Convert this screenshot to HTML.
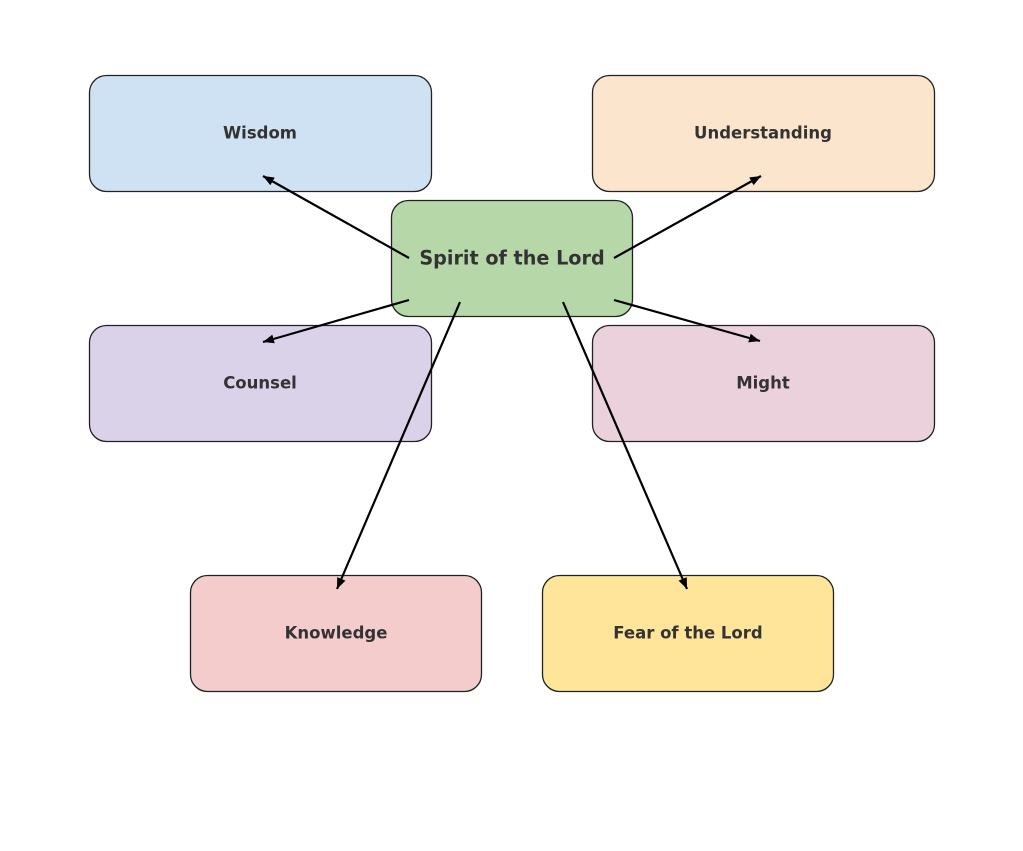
<!DOCTYPE html>
<html><head><meta charset="utf-8"><style>
html,body{margin:0;padding:0;background:#fff;}
svg{display:block;}
text{font-family:"DejaVu Sans","Liberation Sans",sans-serif;font-weight:bold;fill:#333;}
</style></head><body>
<svg width="1023" height="851" viewBox="0 0 1023 851" xmlns="http://www.w3.org/2000/svg">
<defs>
<marker id="ah" markerUnits="userSpaceOnUse" markerWidth="14" markerHeight="12" refX="11" refY="4.5" orient="auto">
<path d="M0,0 L11,4.5 L0,9 Z" fill="#000"/>
</marker>
</defs>
<g stroke="#222" stroke-width="1.3">
<rect x="89.5" y="75.5" width="342" height="116" rx="17" fill="#cfe2f3"/>
<rect x="592.5" y="75.5" width="342" height="116" rx="17" fill="#fce5cd"/>
<rect x="391.5" y="200.5" width="241" height="116" rx="17" fill="#b6d7a8"/>
<rect x="89.5" y="325.5" width="342" height="116" rx="17" fill="#d9d2e9"/>
<rect x="592.5" y="325.5" width="342" height="116" rx="17" fill="#ead1dc"/>
<rect x="190.5" y="575.5" width="291" height="116" rx="17" fill="#f4cccc"/>
<rect x="542.5" y="575.5" width="291" height="116" rx="17" fill="#ffe599"/>
</g>
<g stroke="#000" stroke-width="2.2" fill="none" marker-end="url(#ah)">
<line x1="409" y1="258" x2="263" y2="176"/>
<line x1="614" y1="258" x2="761" y2="176"/>
<line x1="409" y1="300" x2="263" y2="342"/>
<line x1="614" y1="300" x2="760" y2="341"/>
<line x1="460" y1="302" x2="337" y2="589"/>
<line x1="563" y1="302" x2="687" y2="589"/>
</g>
<g text-anchor="middle" dominant-baseline="central" font-size="16.5">
<text x="260" y="133">Wisdom</text>
<text x="763" y="133">Understanding</text>
<text x="512" y="258" font-size="19.2">Spirit of the Lord</text>
<text x="260" y="383">Counsel</text>
<text x="763" y="383">Might</text>
<text x="336" y="633">Knowledge</text>
<text x="688" y="633">Fear of the Lord</text>
</g>
</svg>
</body></html>
